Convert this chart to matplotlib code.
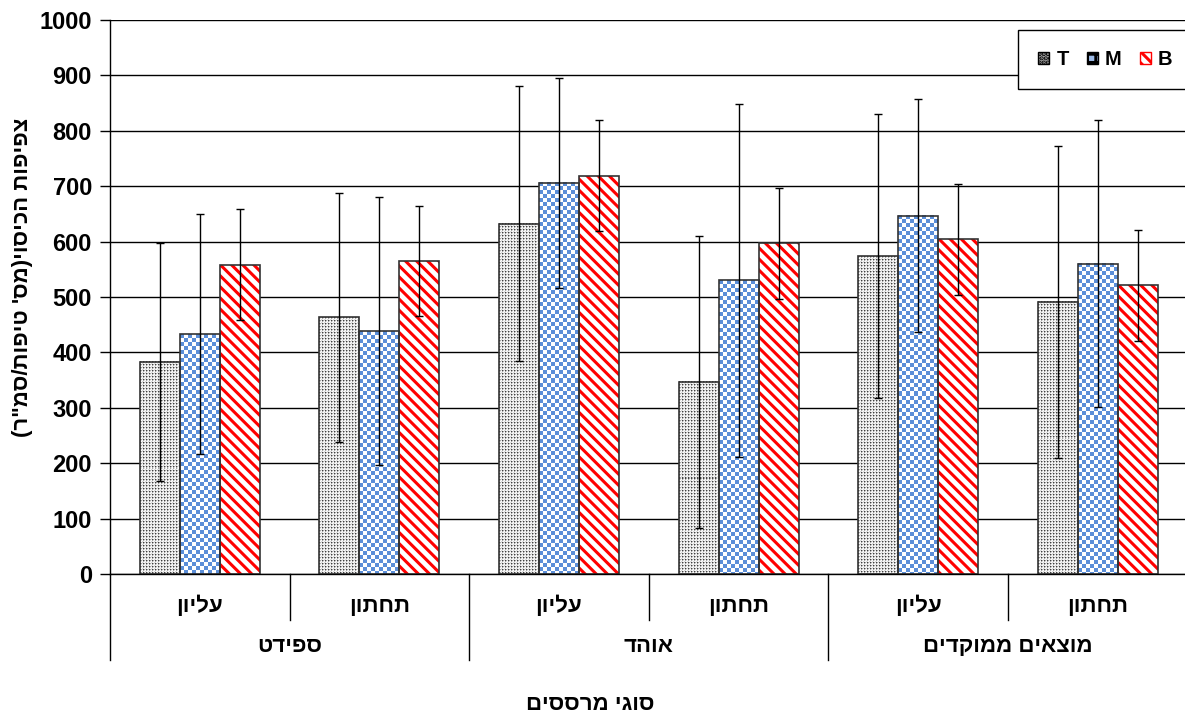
import numpy as np
import matplotlib
matplotlib.use('Agg')
import matplotlib.pyplot as plt
from matplotlib.patches import Patch
from matplotlib.transforms import blended_transform_factory

plt.rcParams['font.family'] = ['Liberation Sans', 'DejaVu Sans']
plt.rcParams['font.weight'] = 'bold'
plt.rcParams['hatch.linewidth'] = 2.2


def vis(s):
    # Hebrew is right-to-left; matplotlib draws left-to-right, so flip it
    swap = {'(': ')', ')': '('}
    return ''.join(swap.get(c, c) for c in s[::-1])


# data
sub_labels = ['עליון', 'תחתון', 'עליון', 'תחתון', 'עליון', 'תחתון']
group_labels = ['ספידט', 'אוהד', 'מוצאים ממוקדים']
series = ['T', 'M', 'B']
t_vals = [383, 463, 632, 347, 574, 491]
t_err = [215, 225, 248, 264, 257, 281]
m_vals = [433, 438, 706, 530, 647, 560]
m_err = [217, 242, 190, 318, 210, 259]
b_vals = [558, 565, 719, 597, 604, 521]
b_err = [100, 100, 100, 100, 100, 100]
y_label = 'צפיפות הכיסוי(מס\' טיפות/סמ"ר)'
x_label = 'סוגי מרססים'

W, H = 1185, 718
fig = plt.figure(figsize=(W / 100, H / 100), dpi=100)
ax = fig.add_axes([110 / W, 1 - 574 / H, 1077.6 / W, 554 / H])

x = np.arange(len(sub_labels))
bw = 0.2227
ax.set_xlim(-0.5, len(sub_labels) - 0.5)
ax.set_ylim(0, 1000)


def tile_image(pattern, x0, x1, h):
    # fill a bar rectangle with a pixel pattern, one image pixel per screen pixel
    p0 = ax.transData.transform((x0, 0))
    p1 = ax.transData.transform((x1, h))
    nx = max(int(round(p1[0] - p0[0])), 1)
    ny = max(int(round(p1[1] - p0[1])), 1)
    ty, tx = pattern.shape[:2]
    reps = (ny // ty + 2, nx // tx + 2) + ((1,) if pattern.ndim == 3 else ())
    img = np.tile(pattern, reps)[:ny, :nx]
    ax.imshow(img, extent=(x0, x1, 0, h), origin='upper', aspect='auto',
              interpolation='nearest', zorder=1.5, cmap='gray', vmin=0, vmax=1)


# dotted grey pattern for T
dots = np.array([[0.25, 0.65, 0.9],
                 [0.65, 0.9, 1.0],
                 [0.9, 1.0, 0.85]])
# blue checkerboard for M
blue = np.array([0.36, 0.56, 0.85])
white = np.array([1.0, 1.0, 1.0])
cell = 4
check = np.zeros((2 * cell, 2 * cell, 3))
for i in range(2 * cell):
    for j in range(2 * cell):
        check[i, j] = blue if ((i // cell) + (j // cell)) % 2 == 0 else white

for xi, v in zip(x - bw, t_vals):
    tile_image(dots, xi - bw / 2, xi + bw / 2, v)
for xi, v in zip(x, m_vals):
    tile_image(check, xi - bw / 2, xi + bw / 2, v)
ax.bar(x + bw, b_vals, bw, facecolor='white', edgecolor='red', hatch='\\\\\\',
       linewidth=0, zorder=1.5)

# outlines
for off, vals in zip([-bw, 0, bw], [t_vals, m_vals, b_vals]):
    ax.bar(x + off, vals, bw, facecolor='none', edgecolor='#333333', linewidth=1.2, zorder=2)

for off, vals, err in zip([-bw, 0, bw], [t_vals, m_vals, b_vals], [t_err, m_err, b_err]):
    ax.errorbar(x + off, vals, yerr=err, fmt='none', ecolor='black', elinewidth=1,
                capsize=3, capthick=1, zorder=3)

ax.set_xlim(-0.5, len(sub_labels) - 0.5)
ax.set_ylim(0, 1000)

# axes styling
ax.set_yticks(np.arange(0, 1001, 100))
ax.yaxis.grid(True, color='black', linewidth=1)
ax.set_axisbelow(True)
ax.tick_params(axis='y', direction='out', length=7, width=1, labelsize=17, pad=6)
ax.tick_params(axis='x', bottom=False, labelbottom=False)
for lab in ax.get_yticklabels():
    lab.set_fontweight('bold')
for s in ['top', 'right']:
    ax.spines[s].set_visible(False)
ax.spines['left'].set_linewidth(1)
ax.spines['bottom'].set_linewidth(1)

ax.set_ylabel(vis(y_label), fontsize=16, fontweight='bold')
ax.yaxis.set_label_coords(-0.0715, 0.536)

# two-level category axis
tr = blended_transform_factory(ax.transData, ax.transAxes)
for xi, lab in zip(x, sub_labels):
    ax.text(xi, -0.058, vis(lab), transform=tr, ha='center', va='center',
            fontsize=16, fontweight='bold')
for gi, lab in enumerate(group_labels):
    ax.text(2 * gi + 0.5, -0.13, vis(lab), transform=tr, ha='center', va='center',
            fontsize=16, fontweight='bold')
for b in np.arange(-0.5, len(sub_labels), 1.0):
    bottom = -0.155 if int(b + 0.5) % 2 == 0 else -0.083
    ax.plot([b, b], [0, bottom], transform=tr, color='black', linewidth=1, clip_on=False)

fig.text(590 / W, 1 - 704 / H, vis(x_label), ha='center', va='center',
         fontsize=16, fontweight='bold')

# legend
handles = [Patch(facecolor='#b0b0b0', edgecolor='black', hatch='....', linewidth=1),
           Patch(facecolor='#9dbbe8', edgecolor='black', hatch='++', linewidth=1),
           Patch(facecolor='white', edgecolor='red', hatch='\\\\\\', linewidth=1)]
leg = fig.legend(handles, series, loc='upper left', ncol=3,
                 bbox_to_anchor=(1018 / W, 1 - 30 / H),
                 fancybox=False, framealpha=1, edgecolor='black', borderaxespad=0,
                 handlelength=0.55, handleheight=0.55, handletextpad=0.35,
                 columnspacing=0.9, borderpad=1.0, prop={'size': 14.5, 'weight': 'bold'})
leg.get_frame().set_linewidth(1)

fig.savefig('out.png', dpi=100)
